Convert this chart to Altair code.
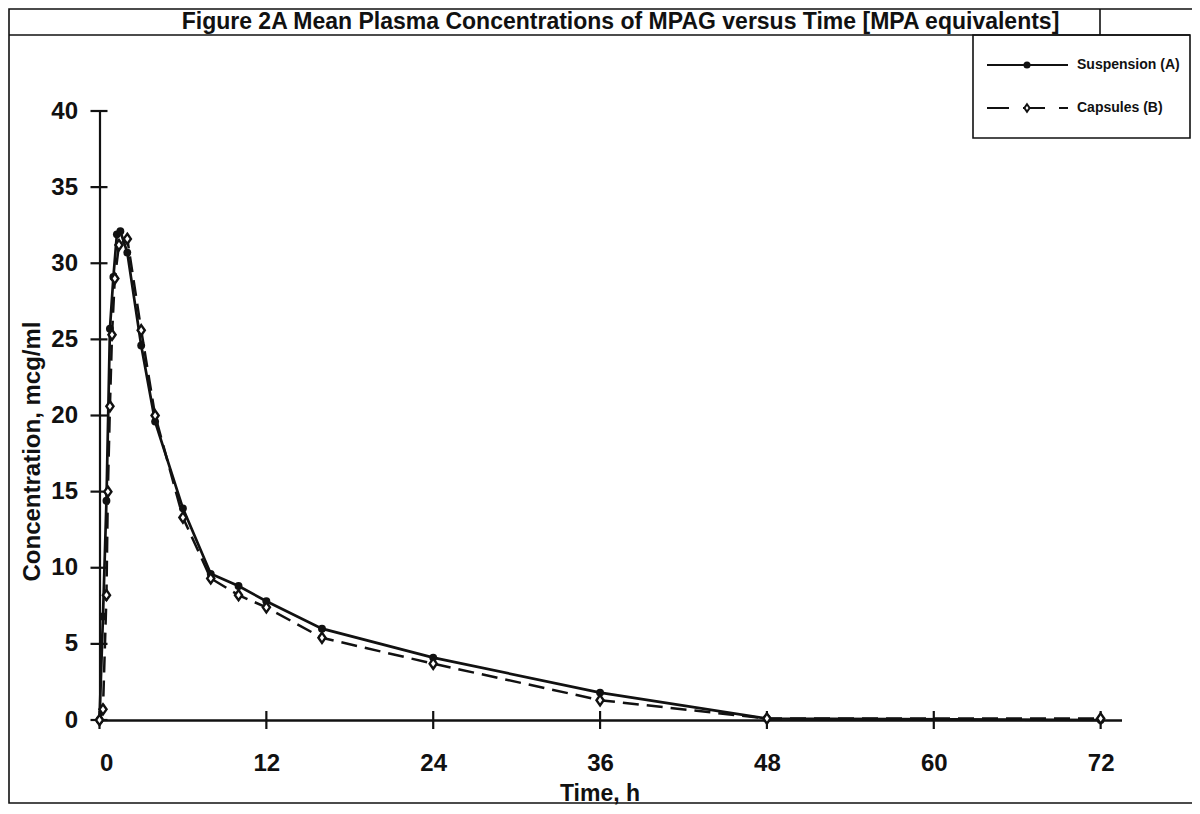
import altair as alt
import pandas as pd

# ---- data ----
susp_time = [0, 0.25, 0.5, 0.75, 1, 1.25, 1.5, 2, 3, 4, 6, 8, 10, 12, 16, 24, 36, 48, 72]
susp_conc = [0, 6.8, 14.4, 25.7, 29.1, 31.9, 32.1, 30.7, 24.6, 19.6, 13.9, 9.6, 8.8, 7.8, 6.0, 4.1, 1.8, 0.1, 0.0]

caps_time = [0, 0.25, 0.5, 0.6, 0.75, 0.9, 1.1, 1.4, 2, 3, 4, 6, 8, 10, 12, 16, 24, 36, 48, 72]
caps_conc = [0, 0.7, 8.2, 15.0, 20.6, 25.3, 29.0, 31.2, 31.6, 25.6, 20.0, 13.3, 9.3, 8.2, 7.4, 5.4, 3.7, 1.3, 0.1, 0.1]

x_ticks = [0, 12, 24, 36, 48, 60, 72]
y_ticks = [0, 5, 10, 15, 20, 25, 30, 35, 40]

title_text = "Figure 2A Mean Plasma Concentrations of MPAG versus Time  [MPA equivalents]"
legend_labels = ["Suspension (A)", "Capsules (B)"]

FONT = "Liberation Sans"
INK = "#111111"

W, H = 1022, 609

susp = pd.DataFrame({"time": susp_time, "conc": susp_conc})
caps = pd.DataFrame({"time": caps_time, "conc": caps_conc})
xt = pd.DataFrame({"v": x_ticks})
yt = pd.DataFrame({"v": y_ticks})
one = pd.DataFrame({"k": [0]})

xs = alt.Scale(domain=[0, 73.5], nice=False, zero=False)
ys = alt.Scale(domain=[0, 40], nice=False)

xaxis = alt.Axis(values=x_ticks, title="Time, h", grid=False, ticks=False,
                 labelFontSize=24, labelFont=FONT, labelFontWeight="bold", labelColor=INK,
                 labelPadding=31, titleFontSize=23, titleFont=FONT, titleFontWeight="bold",
                 titleColor=INK, titlePadding=7, titleX=500, domainColor=INK, domainWidth=2.4)
yaxis = alt.Axis(values=y_ticks, title="Concentration, mcg/ml", grid=False, ticks=False,
                 labelFontSize=24, labelFont=FONT, labelFontWeight="bold", labelColor=INK,
                 labelPadding=22, titleFontSize=24, titleFont=FONT, titleFontWeight="bold",
                 titleColor=INK, titlePadding=6, titleY=340, domainColor=INK, domainWidth=2.2)

X = lambda f: alt.X(f, scale=xs, axis=xaxis)
Y = lambda f: alt.Y(f, scale=ys, axis=yaxis)

susp_line = alt.Chart(susp).mark_line(color=INK, strokeWidth=2.7).encode(x=X("time:Q"), y=Y("conc:Q"))
caps_line = alt.Chart(caps).mark_line(color=INK, strokeWidth=2.5, strokeDash=[16, 8]).encode(x=X("time:Q"), y=Y("conc:Q"))
susp_pts = alt.Chart(susp).mark_point(shape="circle", filled=True, color=INK, size=62, opacity=1).encode(x=X("time:Q"), y=Y("conc:Q"))
diamond = "M0,-1L0.7,0L0,1L-0.7,0Z"
caps_pts = alt.Chart(caps).mark_point(shape=diamond, filled=True, fill="white", stroke=INK,
                                      strokeWidth=2.4, size=105, opacity=1).encode(x=X("time:Q"), y=Y("conc:Q"))

# cross-shaped tick marks on both axes
ytick_rules = alt.Chart(yt).mark_rule(color=INK, strokeWidth=2.2).encode(
    y=Y("v:Q"), x=alt.value(-9), x2=alt.value(8))
xtick_rules = alt.Chart(xt).mark_rule(color=INK, strokeWidth=2.2).encode(
    x=X("v:Q"), y=alt.value(H - 9), y2=alt.value(H + 9))

# frames
def box(x1, y1, x2, y2, sw=1.6):
    return alt.Chart(one).mark_rect(fillOpacity=0, stroke=INK, strokeWidth=sw).encode(
        x=alt.value(x1), x2=alt.value(x2), y=alt.value(y1), y2=alt.value(y2))

def rule(x1, y1, x2, y2, sw=1.6, dash=None):
    kw = dict(color=INK, strokeWidth=sw)
    if dash:
        kw["strokeDash"] = dash
    return alt.Chart(one).mark_rule(**kw).encode(
        x=alt.value(x1), x2=alt.value(x2), y=alt.value(y1), y2=alt.value(y2))

outer = box(-90.5, -102, 1096.5, 692)
title_bottom = rule(-90.5, -76, 1090.5, -76)
title_right = rule(1000.5, -102, 1000.5, -76)
legend_box = box(873.5, -76, 1090.5, 27)

title = alt.Chart(one).mark_text(text=title_text, font=FONT, fontSize=23, fontWeight="bold",
                                 color=INK, align="center", baseline="alphabetic").encode(
    x=alt.value(521), y=alt.value(-82))

# legend
leg1_line = rule(887.5, -46, 968.5, -46, sw=2)
leg1_pt = alt.Chart(one).mark_point(shape="circle", filled=True, color=INK, size=50, opacity=1).encode(
    x=alt.value(927.5), y=alt.value(-46))
leg1_txt = alt.Chart(one).mark_text(text=legend_labels[0], font=FONT, fontSize=14, fontWeight="bold",
                                    color=INK, align="left", baseline="middle").encode(
    x=alt.value(977.5), y=alt.value(-46))
leg2_line = rule(887.5, -3, 968.5, -3, sw=2, dash=[22, 14])
leg2_pt = alt.Chart(one).mark_point(shape=diamond, filled=True, fill="white", stroke=INK,
                                    strokeWidth=2, size=55, opacity=1).encode(
    x=alt.value(927.5), y=alt.value(-3))
leg2_txt = alt.Chart(one).mark_text(text=legend_labels[1], font=FONT, fontSize=14, fontWeight="bold",
                                    color=INK, align="left", baseline="middle").encode(
    x=alt.value(977.5), y=alt.value(-3))

chart = alt.layer(
    susp_line, caps_line, ytick_rules, xtick_rules, susp_pts, caps_pts,
    outer, title_bottom, title_right, legend_box, title,
    leg1_line, leg1_pt, leg1_txt, leg2_line, leg2_pt, leg2_txt,
).properties(
    width=W, height=H,
    autosize=alt.AutoSizeParams(type="none"),
    padding={"left": 91.5, "top": 103, "right": 70.5, "bottom": 86},
    background="white",
).configure_view(stroke=None)

chart.save("out.html", embed_options={"renderer": "svg", "actions": False})
